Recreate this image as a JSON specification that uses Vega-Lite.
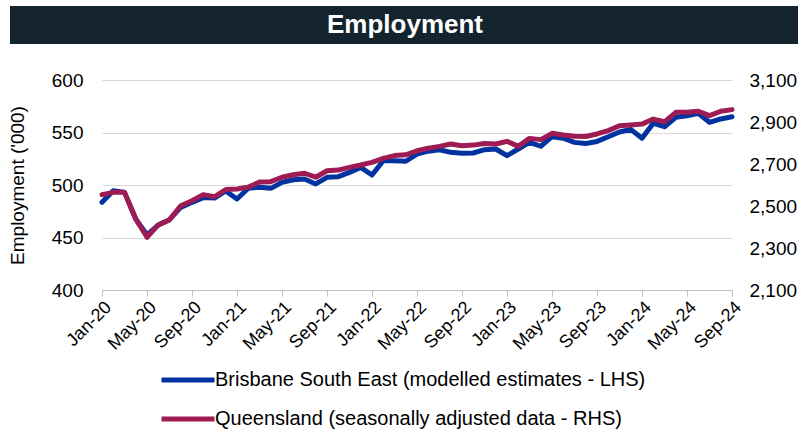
{
  "$schema": "https://vega.github.io/schema/vega-lite/v6.json",
  "padding": {"left": 8, "top": 6, "right": 0, "bottom": 0},
  "spacing": 27,
  "background": "white",
  "config": {"font": "Liberation Sans", "view": {"stroke": null}},
  "vconcat": [
    {
      "width": 698,
      "height": 38,
      "data": {"values": [{"t": "Employment"}]},
      "encoding": {
        "x": {"datum": 0.5, "type": "quantitative", "scale": {"domain": [0, 1], "range": [-92, 698]}, "axis": null}
      },
      "layer": [
        {
          "mark": {"type": "rect", "color": "#13242f"},
          "encoding": {
            "x": {"datum": 0, "type": "quantitative"},
            "x2": {"datum": 1}
          }
        },
        {
          "mark": {"type": "text", "color": "white", "fontSize": 26, "fontWeight": "bold", "align": "center", "baseline": "middle"},
          "encoding": {"text": {"field": "t", "type": "nominal"}}
        }
      ]
    },
    {
      "width": 630,
      "height": 210,
      "data": {"values": [
        {"month": "Jan-20", "bse": 483.5, "qld": 2554},
        {"month": "Feb-20", "bse": 494.6, "qld": 2565},
        {"month": "Mar-20", "bse": 493, "qld": 2565},
        {"month": "Apr-20", "bse": 467.6, "qld": 2438},
        {"month": "May-20", "bse": 452.4, "qld": 2351},
        {"month": "Jun-20", "bse": 461.9, "qld": 2410},
        {"month": "Jul-20", "bse": 467, "qld": 2435},
        {"month": "Aug-20", "bse": 478.7, "qld": 2501},
        {"month": "Sep-20", "bse": 483.5, "qld": 2525},
        {"month": "Oct-20", "bse": 488, "qld": 2554},
        {"month": "Nov-20", "bse": 487.6, "qld": 2544},
        {"month": "Dec-20", "bse": 494.3, "qld": 2578},
        {"month": "Jan-21", "bse": 486.7, "qld": 2581},
        {"month": "Feb-21", "bse": 496.9, "qld": 2590},
        {"month": "Mar-21", "bse": 497.8, "qld": 2614},
        {"month": "Apr-21", "bse": 496.8, "qld": 2616},
        {"month": "May-21", "bse": 502.5, "qld": 2637},
        {"month": "Jun-21", "bse": 505, "qld": 2649},
        {"month": "Jul-21", "bse": 505.7, "qld": 2656},
        {"month": "Aug-21", "bse": 501, "qld": 2637},
        {"month": "Sep-21", "bse": 507.3, "qld": 2668},
        {"month": "Oct-21", "bse": 507.9, "qld": 2671},
        {"month": "Nov-21", "bse": 512, "qld": 2684},
        {"month": "Dec-21", "bse": 516.8, "qld": 2695},
        {"month": "Jan-22", "bse": 509.5, "qld": 2708},
        {"month": "Feb-22", "bse": 523.1, "qld": 2727},
        {"month": "Mar-22", "bse": 523.1, "qld": 2740},
        {"month": "Apr-22", "bse": 522.6, "qld": 2744},
        {"month": "May-22", "bse": 529.5, "qld": 2763},
        {"month": "Jun-22", "bse": 532.2, "qld": 2775},
        {"month": "Jul-22", "bse": 533.6, "qld": 2784},
        {"month": "Aug-22", "bse": 531.1, "qld": 2795},
        {"month": "Sep-22", "bse": 530.2, "qld": 2787},
        {"month": "Oct-22", "bse": 530.5, "qld": 2790},
        {"month": "Nov-22", "bse": 533.6, "qld": 2798},
        {"month": "Dec-22", "bse": 534.3, "qld": 2795},
        {"month": "Jan-23", "bse": 527.9, "qld": 2808},
        {"month": "Feb-23", "bse": 534.3, "qld": 2784},
        {"month": "Mar-23", "bse": 540.6, "qld": 2822},
        {"month": "Apr-23", "bse": 536.9, "qld": 2816},
        {"month": "May-23", "bse": 546, "qld": 2846},
        {"month": "Jun-23", "bse": 544.5, "qld": 2838},
        {"month": "Jul-23", "bse": 540.6, "qld": 2832},
        {"month": "Aug-23", "bse": 539.5, "qld": 2831},
        {"month": "Sep-23", "bse": 541.5, "qld": 2843},
        {"month": "Oct-23", "bse": 546, "qld": 2859},
        {"month": "Nov-23", "bse": 550.5, "qld": 2882},
        {"month": "Dec-23", "bse": 553, "qld": 2886},
        {"month": "Jan-24", "bse": 544.5, "qld": 2890},
        {"month": "Feb-24", "bse": 558.8, "qld": 2914},
        {"month": "Mar-24", "bse": 555.5, "qld": 2901},
        {"month": "Apr-24", "bse": 564.5, "qld": 2946},
        {"month": "May-24", "bse": 566, "qld": 2946},
        {"month": "Jun-24", "bse": 568.3, "qld": 2951},
        {"month": "Jul-24", "bse": 559.7, "qld": 2930},
        {"month": "Aug-24", "bse": 562.9, "qld": 2951},
        {"month": "Sep-24", "bse": 565, "qld": 2959}
      ]},
      "encoding": {
        "x": {
          "field": "month", "type": "ordinal", "sort": null,
          "scale": {"type": "point", "padding": 0},
          "axis": {
            "values": ["Jan-20","May-20","Sep-20","Jan-21","May-21","Sep-21","Jan-22","May-22","Sep-22","Jan-23","May-23","Sep-23","Jan-24","May-24","Sep-24"],
            "labelAngle": -45, "labelFontSize": 18, "labelColor": "#000", "title": null,
            "domainColor": "#bfbfbf", "tickColor": "#bfbfbf", "tickSize": 6, "grid": false, "labelPadding": 2
          }
        }
      },
      "layer": [
        {
          "mark": {"type": "line", "strokeWidth": 5, "strokeJoin": "round", "strokeCap": "round"},
          "encoding": {
            "y": {
              "field": "bse", "type": "quantitative",
              "scale": {"domain": [400, 600], "nice": false, "zero": false},
              "axis": {
                "values": [400, 450, 500, 550, 600], "grid": true, "gridColor": "#d9d9d9", "domain": false, "ticks": false,
                "labelFontSize": 19, "labelColor": "#000", "labelPadding": 19,
                "title": "Employment ('000)", "titleFontSize": 19, "titleFontWeight": "normal", "titleColor": "#000", "titlePadding": 24
              }
            },
            "color": {
              "datum": "Brisbane South East (modelled estimates - LHS)",
              "scale": {
                "domain": ["Brisbane South East (modelled estimates - LHS)", "Queensland (seasonally adjusted data - RHS)"],
                "range": ["#0033a0", "#9e1b53"]
              },
              "legend": {
                "orient": "none", "legendX": 57, "legendY": 345, "direction": "vertical", "title": null,
                "symbolType": "stroke", "symbolSize": 2809, "symbolStrokeWidth": 5,
                "labelFontSize": 20, "labelColor": "#000", "labelOffset": -2, "rowPadding": -5, "labelLimit": 0
              }
            }
          }
        },
        {
          "mark": {"type": "line", "strokeWidth": 5, "strokeJoin": "round", "strokeCap": "round"},
          "encoding": {
            "y": {
              "field": "qld", "type": "quantitative",
              "scale": {"domain": [2100, 3100], "nice": false, "zero": false},
              "axis": {
                "orient": "right", "values": [2100, 2300, 2500, 2700, 2900, 3100], "format": ",.0f",
                "grid": false, "domain": false, "ticks": false,
                "labelFontSize": 19, "labelColor": "#000", "labelPadding": 17, "title": null
              }
            },
            "color": {"datum": "Queensland (seasonally adjusted data - RHS)"}
          }
        }
      ],
      "resolve": {"scale": {"y": "independent"}}
    }
  ]
}
